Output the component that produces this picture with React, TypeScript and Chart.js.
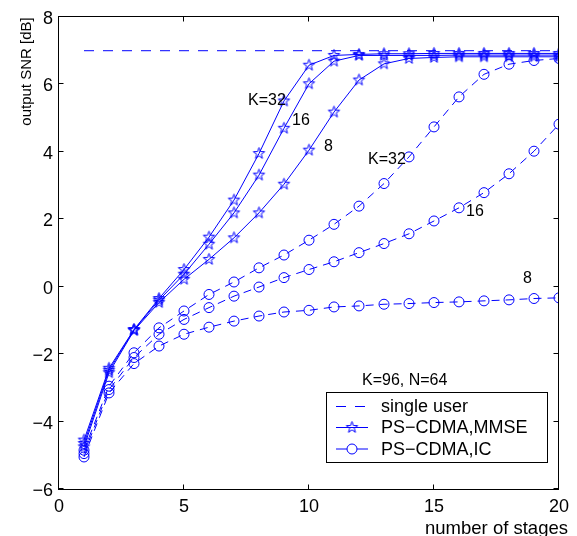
import React, { useEffect, useRef } from "react";
import { Chart, registerables } from "chart.js";

Chart.register(...registerables);

// ---------- data ----------
const stages = [1, 2, 3, 4, 5, 6, 7, 8, 9, 10, 11, 12, 13, 14, 15, 16, 17, 18, 19, 20];

const singleUser = [7, 7, 7, 7, 7, 7, 7, 7, 7, 7, 7, 7, 7, 7, 7, 7, 7, 7, 7, 7];

const mmseK32 = [-4.55, -2.42, -1.27, -0.35, 0.51, 1.47, 2.57, 3.95, 5.51, 6.57, 6.86, 6.89, 6.91, 6.91, 6.92, 6.92, 6.92, 6.92, 6.92, 6.92];
const mmseK16 = [-4.65, -2.48, -1.28, -0.4, 0.37, 1.26, 2.19, 3.31, 4.7, 6.02, 6.69, 6.86, 6.86, 6.86, 6.86, 6.87, 6.87, 6.87, 6.87, 6.87];
const mmseK8 = [-4.75, -2.55, -1.3, -0.47, 0.22, 0.81, 1.45, 2.19, 3.04, 4.05, 5.18, 6.13, 6.61, 6.77, 6.8, 6.82, 6.82, 6.82, 6.82, 6.82];

const icK32 = [-4.85, -2.95, -1.96, -1.22, -0.72, -0.23, 0.14, 0.56, 0.94, 1.38, 1.85, 2.39, 3.06, 3.85, 4.74, 5.63, 6.3, 6.6, 6.71, 6.77];
const icK16 = [-4.95, -3.05, -2.1, -1.41, -0.97, -0.62, -0.28, -0.01, 0.27, 0.51, 0.74, 1.01, 1.28, 1.57, 1.95, 2.34, 2.79, 3.35, 4.02, 4.82];
const icK8 = [-5.05, -3.15, -2.28, -1.76, -1.41, -1.2, -1.02, -0.87, -0.75, -0.7, -0.6, -0.57, -0.52, -0.5, -0.47, -0.45, -0.42, -0.39, -0.35, -0.33];

const xTicks = [0, 5, 10, 15, 20];
const yTicks = [-6, -4, -2, 0, 2, 4, 6, 8];

const legendLabels = ["single user", "PS\u2212CDMA,MMSE", "PS\u2212CDMA,IC"];
const xTitle = "number of stages";
const yTitle = "output SNR [dB]";

// curve labels anchored in data coordinates
const curveLabelText = ["K=32", "16", "8", "K=32", "16", "8", "K=96, N=64"];
const curveLabelX = [7.56, 9.32, 10.6, 12.36, 16.28, 18.56, 12.12];
const curveLabelY = [5.52, 4.94, 4.17, 3.77, 2.23, 0.24, -2.77];

// ---------- styles ----------
const FONT = "'Liberation Sans', Arial, Helvetica, sans-serif";
const BLUE = "rgb(0,0,255)";

function makeStar(): HTMLCanvasElement {
  const c = document.createElement("canvas");
  c.width = 15;
  c.height = 15;
  const ctx = c.getContext("2d")!;
  ctx.strokeStyle = BLUE;
  ctx.lineWidth = 1;
  const cx = 7.5, cy = 7.5, R = 6, r = 2.4;
  ctx.beginPath();
  for (let i = 0; i < 10; i++) {
    const a = -Math.PI / 2 + (i * Math.PI) / 5;
    const rad = i % 2 === 0 ? R : r;
    const px = cx + rad * Math.cos(a);
    const py = cy + rad * Math.sin(a);
    if (i === 0) ctx.moveTo(px, py);
    else ctx.lineTo(px, py);
  }
  ctx.closePath();
  ctx.stroke();
  return c;
}

const pts = (ys: number[]) => stages.map((s, i) => ({ x: s, y: ys[i] }));

export default function App() {
  const ref = useRef<HTMLCanvasElement | null>(null);

  useEffect(() => {
    if (!ref.current) return;
    const star = makeStar();
    const IC_DASH = [8, 6];

    const overlay = {
      id: "overlay",
      afterDraw(chart: any) {
        const { ctx, chartArea: a, scales } = chart;
        const xs = scales.x, ys = scales.y;
        ctx.save();
        // frame
        const L = Math.round(a.left) - 0.5;
        const R = Math.round(a.right) - 0.5;
        const T = Math.round(a.top) - 0.5;
        const B = Math.round(a.bottom) + 0.5;
        ctx.strokeStyle = "#000";
        ctx.lineWidth = 1;
        ctx.setLineDash([]);
        ctx.strokeRect(L, T, R - L, B - T);
        // inward ticks
        ctx.beginPath();
        for (const v of xTicks) {
          const px = Math.round(xs.getPixelForValue(v)) - 0.5;
          ctx.moveTo(px, B); ctx.lineTo(px, B - 5);
          ctx.moveTo(px, T); ctx.lineTo(px, T + 5);
        }
        for (const v of yTicks) {
          const py = Math.round(ys.getPixelForValue(v)) - 0.5;
          ctx.moveTo(L, py); ctx.lineTo(L + 5, py);
          ctx.moveTo(R, py); ctx.lineTo(R - 5, py);
        }
        ctx.stroke();

        // curve labels
        ctx.fillStyle = "#000";
        ctx.font = `16px ${FONT}`;
        ctx.textAlign = "left";
        ctx.textBaseline = "middle";
        curveLabelText.forEach((t, i) => {
          ctx.fillText(t, xs.getPixelForValue(curveLabelX[i]), ys.getPixelForValue(curveLabelY[i]));
        });

        // axis titles
        ctx.font = `18.5px ${FONT}`;
        ctx.textAlign = "center";
        ctx.textBaseline = "alphabetic";
        ctx.fillText(xTitle, 496.5, 534);
        ctx.save();
        ctx.translate(31, 71.5);
        ctx.rotate(-Math.PI / 2);
        ctx.font = `15px ${FONT}`;
        ctx.fillText(yTitle, 0, 0);
        ctx.restore();

        // legend
        const bx = 326.5, by = 392.5, bw = 221, bh = 70;
        ctx.fillStyle = "#fff";
        ctx.fillRect(bx, by, bw, bh);
        ctx.strokeStyle = "#000";
        ctx.strokeRect(bx, by, bw, bh);
        const rows = [406.5, 427.5, 449];
        ctx.strokeStyle = BLUE;
        ctx.lineWidth = 1;
        rows.forEach((ry, i) => {
          ctx.beginPath();
          if (i === 0) ctx.setLineDash([10, 9]);
          else ctx.setLineDash([]);
          ctx.moveTo(336, ry);
          ctx.lineTo(368, ry);
          ctx.stroke();
          ctx.setLineDash([]);
          if (i === 1) {
            ctx.drawImage(star, 352 - 7.5, ry - 7.5);
          } else if (i === 2) {
            ctx.beginPath();
            ctx.fillStyle = "#fff";
            ctx.arc(352, ry, 5, 0, Math.PI * 2);
            ctx.fill();
            ctx.stroke();
          }
        });
        ctx.fillStyle = "#000";
        ctx.font = `18px ${FONT}`;
        ctx.textAlign = "left";
        ctx.textBaseline = "middle";
        legendLabels.forEach((t, i) => ctx.fillText(t, 381, rows[i] + 1));
        ctx.restore();
      },
    };

    const mmseDs = (data: number[]) => ({
      data: pts(data),
      borderColor: BLUE,
      borderWidth: 1,
      pointStyle: star,
      pointRadius: 6,
      pointHoverRadius: 6,
      fill: false,
    });
    const icDs = (data: number[]) => ({
      data: pts(data),
      borderColor: BLUE,
      borderWidth: 1,
      borderDash: IC_DASH,
      pointStyle: "circle",
      pointRadius: 5,
      pointHoverRadius: 5,
      pointBorderWidth: 1,
      pointBorderColor: BLUE,
      pointBackgroundColor: "rgba(0,0,0,0)",
      fill: false,
    });

    const chart = new Chart(ref.current, {
      type: "line",
      data: {
        datasets: [
          {
            data: pts(singleUser),
            borderColor: BLUE,
            borderWidth: 1,
            borderDash: [10, 9],
            pointRadius: 0,
            fill: false,
          } as any,
          mmseDs(mmseK32),
          mmseDs(mmseK16),
          mmseDs(mmseK8),
          icDs(icK32),
          icDs(icK16),
          icDs(icK8),
        ],
      },
      options: {
        animation: false,
        responsive: false,
        devicePixelRatio: 1,
        layout: { padding: { top: 17, right: 18, left: 0, bottom: 0 } },
        plugins: { legend: { display: false }, tooltip: { enabled: false } },
        scales: {
          x: {
            type: "linear",
            min: 0,
            max: 20,
            afterFit: (s: any) => { s.height = 47; },
            afterBuildTicks: (s: any) => { s.ticks = xTicks.map((v) => ({ value: v })); },
            grid: { display: false, drawTicks: false },
            border: { display: false },
            ticks: { font: { family: FONT, size: 18 }, color: "#000", padding: 7, maxRotation: 0 },
          },
          y: {
            type: "linear",
            min: -6,
            max: 8,
            afterFit: (s: any) => { s.width = 59; },
            afterBuildTicks: (s: any) => { s.ticks = yTicks.map((v) => ({ value: v })); },
            grid: { display: false, drawTicks: false },
            border: { display: false },
            ticks: {
              font: { family: FONT, size: 18 },
              color: "#000",
              padding: 6,
              labelOffset: 2,
              callback: (v: any) => String(v).replace("-", "\u2212"),
            },
          },
        },
      } as any,
      plugins: [overlay],
    });
    return () => chart.destroy();
  }, []);

  return (
    <div style={{ position: "fixed", left: 0, top: 0, width: 577, height: 536, background: "#fff" }}>
      <canvas ref={ref} width={577} height={536} style={{ width: 577, height: 536, display: "block" }} />
    </div>
  );
}
